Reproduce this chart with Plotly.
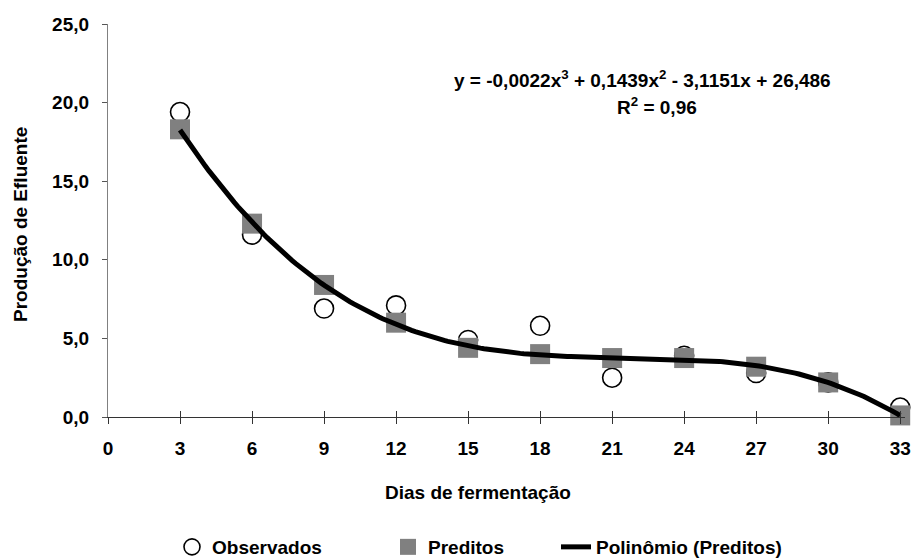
import numpy as np
import plotly.graph_objects as go

# Dias de fermentação
dias = [3, 6, 9, 12, 15, 18, 21, 24, 27, 30, 33]
# Produção de efluente observada
observados = [19.4, 11.6, 6.9, 7.1, 4.9, 5.8, 2.5, 3.9, 2.8, 2.2, 0.6]
# Produção de efluente predita
preditos = [18.3, 12.3, 8.4, 6.0, 4.4, 4.0, 3.75, 3.75, 3.2, 2.2, 0.1]

x_ticks = list(range(0, 34, 3))
y_ticks = [0, 5, 10, 15, 20, 25]

equacao = "y = -0,0022x<sup>3</sup> + 0,1439x<sup>2</sup> - 3,1151x + 26,486"
r2_texto = "R<sup>2</sup> = 0,96"

# Cubic trend line fitted to the predicted series
coef = np.polyfit(dias, preditos, 3)
x_fit = np.linspace(min(dias), max(dias), 200)
y_fit = np.polyval(coef, x_fit)

FONT = "Liberation Sans, Arial, sans-serif"
FS = 19

# plot area in pixels, used to place free text and legends
plot_l, plot_r, plot_t, plot_b = 108, 905, 24, 417


def px_x(v):
    return (v - plot_l) / (plot_r - plot_l)


def px_y(v):
    return (plot_b - v) / (plot_b - plot_t)


fig = go.Figure()
fig.add_trace(go.Scatter(
    x=dias, y=observados, mode="markers", name="Observados",
    marker=dict(symbol="circle", size=19, color="white",
                line=dict(color="black", width=1.6)),
    cliponaxis=False, legend="legend",
))
fig.add_trace(go.Scatter(
    x=dias, y=preditos, mode="markers", name="Preditos",
    marker=dict(symbol="square", size=20, color="#808080",
                line=dict(width=0)),
    cliponaxis=False, legend="legend2",
))
fig.add_trace(go.Scatter(
    x=x_fit, y=y_fit, mode="lines", name="Polinômio (Preditos)",
    line=dict(color="black", width=5),
    cliponaxis=False, legend="legend3",
))
# secondary x axis carries the inner half of the crossing tick marks
fig.add_trace(go.Scatter(x=[0], y=[0], xaxis="x2", mode="markers",
                         marker=dict(opacity=0), showlegend=False,
                         hoverinfo="skip"))

legend_font = dict(family=FONT, size=FS, color="black", weight="bold")
legend_common = dict(orientation="h", xanchor="left", yanchor="middle",
                     y=px_y(547), font=legend_font,
                     bgcolor="rgba(0,0,0,0)", borderwidth=0)

fig.update_layout(
    width=915, height=558,
    margin=dict(l=plot_l, r=915 - plot_r, t=plot_t, b=558 - plot_b,
                autoexpand=False),
    paper_bgcolor="white", plot_bgcolor="white",
    separators=",.",
    font=dict(family=FONT, size=FS, color="black", weight="bold"),
    showlegend=True,
    legend=dict(x=px_x(172), **legend_common),
    legend2=dict(x=px_x(388), **legend_common),
    legend3=dict(x=px_x(556), **legend_common),
    xaxis=dict(
        range=[0, 33.2], tickmode="array", tickvals=x_ticks,
        ticktext=[str(v) for v in x_ticks],
        showgrid=False, zeroline=False,
        showline=True, linecolor="#333333", linewidth=1.2,
        ticks="outside", ticklen=6, tickwidth=1, tickcolor="#333333",
        tickfont=dict(family=FONT, size=FS, color="black", weight="bold"),
        ticklabelstandoff=8,
    ),
    xaxis2=dict(
        overlaying="x", range=[0, 33.2], tickmode="array", tickvals=x_ticks,
        showticklabels=False, showgrid=False, zeroline=False,
        showline=False, ticks="inside", ticklen=6, tickwidth=1,
        tickcolor="#333333", side="bottom", anchor="y",
    ),
    yaxis=dict(
        range=[0, 25], tickmode="array", tickvals=y_ticks,
        tickformat=".1f",
        showgrid=False, zeroline=False,
        showline=True, linecolor="#808080", linewidth=1.2,
        ticks="outside", ticklen=5, tickwidth=1, tickcolor="#555555",
        tickfont=dict(family=FONT, size=FS, color="black", weight="bold"),
        ticklabelstandoff=9,
    ),
    annotations=[
        dict(text="Dias de fermentação", x=px_x(478), y=px_y(492),
             xref="paper", yref="paper", showarrow=False,
             xanchor="center", yanchor="middle",
             font=dict(family=FONT, size=FS, weight="bold")),
        dict(text="Produção de Efluente", textangle=-90,
             x=px_x(20), y=px_y(225), xref="paper", yref="paper",
             showarrow=False, xanchor="center", yanchor="middle",
             font=dict(family=FONT, size=FS, weight="bold")),
        dict(text=equacao, x=px_x(452), y=px_y(79), xref="paper",
             yref="paper", showarrow=False, xanchor="left",
             yanchor="middle",
             font=dict(family=FONT, size=19, weight="bold")),
        dict(text=r2_texto, x=px_x(615), y=px_y(106), xref="paper",
             yref="paper", showarrow=False, xanchor="left",
             yanchor="middle",
             font=dict(family=FONT, size=19, weight="bold")),
    ],
)

fig.write_html("out.html")
